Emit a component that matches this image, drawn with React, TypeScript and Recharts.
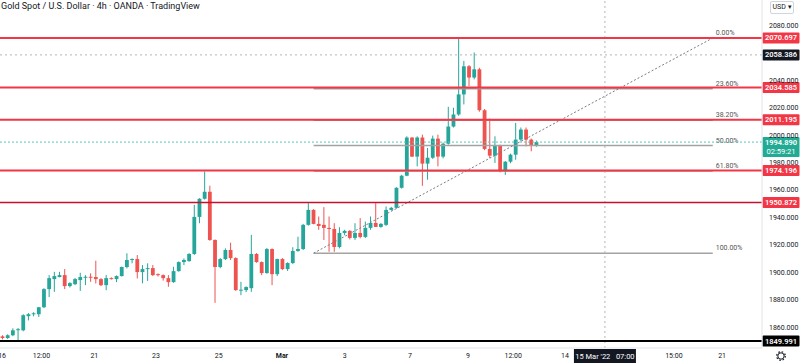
import React from 'react';
import { ComposedChart, Bar, XAxis, YAxis, ReferenceLine } from 'recharts';

// ---- candle data (4h, Gold spot) ----
const opens = [
  1853.4, 1852.2, 1854.2, 1858.3, 1857.8, 1868.1, 1869.5, 1869.5, 1874.6, 1887.8,
  1895.1, 1896.6, 1898.0, 1890.0, 1891.4, 1894.4, 1896.6, 1896.8, 1896.6, 1895.1,
  1890.7, 1895.8, 1895.1, 1897.3, 1903.9, 1909.0, 1909.7, 1900.2, 1902.4, 1903.1,
  1898.7, 1898.0, 1895.8, 1892.9, 1900.9, 1907.5, 1908.2, 1913.4, 1940.4, 1953.6,
  1958.7, 1923.6, 1903.9, 1909.7, 1916.3, 1910.4, 1887.1, 1887.1, 1888.5, 1913.4,
  1907.5, 1899.5, 1917.0, 1898.7, 1909.7, 1902.4, 1906.8, 1915.6, 1917.0, 1934.6,
  1945.5, 1935.3, 1934.6, 1932.4, 1931.6, 1918.5, 1928.7, 1930.2, 1925.1, 1928.7,
  1925.8, 1932.4, 1936.0, 1933.1, 1934.6, 1945.5, 1947.0, 1961.6, 1970.4, 1998.2,
  1984.3, 1998.2, 1979.2, 1983.5, 1997.4, 1984.3, 1993.7, 2006.2, 2015.0, 2029.6,
  2050.1, 2041.9, 2047.9, 2018.1, 1989.9, 1985.0, 1992.3, 1973.5, 1980.6, 1985.7,
  1996.7, 2004.0, 1996.7, 1992.3,
];
const highs = [
  1854.2, 1854.9, 1859.3, 1859.5, 1869.5, 1870.4, 1871.0, 1874.8, 1888.5, 1898.0,
  1900.4, 1900.4, 1902.4, 1892.8, 1896.0, 1899.7, 1898.0, 1899.3, 1908.5, 1895.8,
  1898.0, 1896.4, 1897.8, 1904.2, 1913.9, 1910.2, 1912.6, 1905.3, 1906.6, 1905.3,
  1899.3, 1898.5, 1898.0, 1904.1, 1908.0, 1910.2, 1914.0, 1949.2, 1954.0, 1973.5,
  1963.1, 1924.0, 1910.4, 1917.5, 1921.6, 1911.0, 1893.1, 1889.8, 1927.3, 1914.0,
  1908.0, 1917.7, 1917.5, 1910.0, 1910.4, 1907.3, 1918.3, 1926.0, 1935.3, 1950.4,
  1946.0, 1940.7, 1947.5, 1940.7, 1935.8, 1932.9, 1931.0, 1930.8, 1935.8, 1939.5,
  1937.0, 1940.7, 1950.4, 1936.0, 1948.0, 1947.7, 1962.0, 1971.0, 1999.1, 1998.5,
  1999.1, 2000.3, 1990.6, 1999.6, 2000.3, 1994.5, 2020.6, 2019.9, 2070.7, 2054.0,
  2051.0, 2060.1, 2049.0, 2019.0, 2012.0, 1999.1, 1993.0, 1981.0, 1986.5, 2008.9,
  2005.5, 2005.5, 1997.5, 1996.0,
];
const lows = [
  1851.2, 1851.5, 1853.5, 1850.5, 1857.1, 1865.0, 1868.0, 1867.5, 1874.0, 1882.0,
  1885.8, 1896.4, 1887.8, 1889.0, 1890.7, 1886.5, 1890.7, 1893.1, 1891.9, 1890.0,
  1887.0, 1894.8, 1892.9, 1897.0, 1902.9, 1906.6, 1895.6, 1892.0, 1893.8, 1897.3,
  1897.0, 1894.0, 1889.5, 1892.4, 1900.5, 1905.3, 1907.8, 1912.7, 1935.8, 1953.0,
  1923.0, 1877.8, 1903.0, 1909.0, 1909.0, 1886.5, 1883.4, 1885.6, 1885.8, 1907.0,
  1898.0, 1899.0, 1890.7, 1897.3, 1901.7, 1901.0, 1906.0, 1915.0, 1916.3, 1934.0,
  1935.0, 1931.0, 1923.6, 1915.0, 1915.0, 1917.5, 1927.0, 1924.0, 1923.6, 1924.8,
  1925.0, 1931.0, 1933.0, 1932.5, 1933.8, 1945.0, 1946.5, 1961.0, 1970.0, 1984.0,
  1977.2, 1963.0, 1967.5, 1982.6, 1977.2, 1983.0, 1993.0, 2005.5, 2014.0, 2022.3,
  2035.7, 2040.6, 2017.0, 1989.0, 1983.3, 1979.7, 1972.8, 1971.0, 1979.5, 1982.0,
  1995.5, 1991.8, 1988.2, 1991.5,
];
const closes = [
  1852.2, 1854.2, 1857.8, 1858.6, 1868.8, 1869.5, 1870.2, 1874.6, 1887.8, 1895.8,
  1897.3, 1898.0, 1890.0, 1892.2, 1895.1, 1896.6, 1896.8, 1896.6, 1895.1, 1890.7,
  1895.8, 1895.3, 1897.3, 1903.9, 1909.0, 1909.7, 1900.2, 1902.4, 1903.1, 1898.0,
  1898.0, 1895.8, 1892.9, 1900.9, 1907.5, 1909.0, 1913.4, 1940.4, 1953.6, 1958.7,
  1923.6, 1903.9, 1909.7, 1916.3, 1910.4, 1887.1, 1887.4, 1889.3, 1913.4, 1907.5,
  1899.5, 1917.0, 1898.7, 1909.7, 1902.4, 1906.8, 1915.6, 1917.0, 1934.6, 1945.5,
  1935.3, 1933.8, 1932.4, 1931.6, 1918.5, 1928.7, 1930.2, 1925.1, 1928.7, 1925.8,
  1932.4, 1936.0, 1933.1, 1935.3, 1945.5, 1947.0, 1961.6, 1970.4, 1998.2, 1984.3,
  1998.2, 1979.2, 1983.5, 1997.4, 1984.3, 1993.7, 2006.2, 2015.0, 2029.6, 2050.1,
  2041.9, 2047.9, 2018.1, 1989.9, 1985.0, 1992.3, 1973.5, 1980.6, 1985.7, 1996.7,
  2004.0, 1996.7, 1992.3, 1994.9,
];
const TOTAL_SLOTS = 147; // candles + empty future space

// ---- axis labels ----
const timeTickPos = [-0.1, 7.5, 17.7, 29.6, 41.7, 53.9, 66.0, 78.6, 89.8, 98.5, 108.5, 129.5, 138.8];
const timeTickLabels = ['16', '12:00', '21', '23', '25', 'Mar', '3', '7', '9', '12:00', '14', '15:00', '21'];
const boldTimeLabels = ['Mar'];
const priceTicks = [1860, 1880, 1900, 1920, 1940, 1960, 1980, 2000, 2020, 2040, 2080];
const priceDomain = [1844.92, 2098.37];

// ---- drawings ----
const redLevels = [2070.697, 2034.585, 2011.195, 1974.196];
const supportLevel = 1950.872;
const bottomLevel = 1849.991;
const crosshairPrice = 2058.386;
const crosshairSlot = 116.2;
const crosshairTime = "15 Mar '22   07:00";
const lastPrice = 1994.89;
const countdown = '02:59:21';
const fibStart = 60;
const fibEnd = 137;
const fibHigh = 2070.697;
const fibLow = 1914.0;
const fibRatios = [0, 0.236, 0.382, 0.5, 0.618, 1];
const fibLabels = ['0.00%', '23.60%', '38.20%', '50.00%', '61.80%', '100.00%'];

const UP = '#26a69a';
const DOWN = '#ef5350';
const LINE_RED = '#f23645';
const FONT = 'Roboto, "Liberation Sans", sans-serif';

const data = Array.from({ length: TOTAL_SLOTS }, (_, i) =>
  i < opens.length
    ? { i, o: opens[i], h: highs[i], l: lows[i], c: closes[i], range: [lows[i], highs[i]] }
    : { i, range: null }
);

const Candle = (props: any) => {
  const { x, y, width, height, payload } = props;
  if (!payload || payload.o == null || height == null || isNaN(y)) return <g />;
  const { o, h, l, c } = payload;
  const top = Math.min(y, y + height);
  const hh = Math.abs(height);
  const ppu = h > l ? hh / (h - l) : 0;
  const yOf = (v: number) => top + (h - v) * ppu;
  const cx = x + width / 2;
  const color = c >= o ? UP : DOWN;
  const bt = yOf(Math.max(o, c));
  const bb = yOf(Math.min(o, c));
  const bw = 3.8;
  return (
    <g>
      <line x1={cx} x2={cx} y1={top} y2={top + hh} stroke={color} strokeWidth={1} />
      <rect x={cx - bw / 2} y={bt} width={bw} height={Math.max(1, bb - bt)} fill={color} />
    </g>
  );
};

const PriceBox = (props: any) => {
  const { viewBox, text, fill, sub } = props;
  if (!viewBox) return null;
  const x = viewBox.x + viewBox.width + 0.5;
  const y = viewBox.y;
  const h = sub ? 20 : 11;
  const top = sub ? y - 5 : y - 5.5;
  return (
    <g>
      <rect x={x} y={top} width={37} height={h} fill={fill} rx={1} />
      <text x={x + 18.5} y={top + 8} textAnchor="middle" fill="#fff" fontSize={7.5} fontFamily={FONT} fontWeight={600}>
        {text}
      </text>
      {sub ? (
        <text x={x + 18.5} y={top + 17} textAnchor="middle" fill="#fff" fontSize={7.5} fontFamily={FONT}>
          {sub}
        </text>
      ) : null}
    </g>
  );
};

const FibLabel = (props: any) => {
  const { viewBox, text } = props;
  if (!viewBox) return null;
  return (
    <text x={viewBox.x + viewBox.width + 3} y={viewBox.y - 3} fill="#555" fontSize={7} fontFamily={FONT}>
      {text}
    </text>
  );
};

const TimeBox = (props: any) => {
  const { viewBox, text } = props;
  if (!viewBox) return null;
  const x = viewBox.x;
  const y = viewBox.y + viewBox.height + 1;
  return (
    <g>
      <rect x={x - 31} y={y} width={62} height={14} fill="#131722" />
      <text x={x} y={y + 10} textAnchor="middle" fill="#fff" fontSize={7.5} fontFamily={FONT} style={{ whiteSpace: 'pre' }}>
        {text}
      </text>
    </g>
  );
};

const TimeTick = (props: any) => {
  const { x, y, payload } = props;
  const idx = timeTickPos.indexOf(payload.value);
  const label = idx >= 0 ? timeTickLabels[idx] : '';
  return (
    <text
      x={x}
      y={y + 8}
      textAnchor="middle"
      fill="#131722"
      fontSize={7}
      fontFamily={FONT}
      fontWeight={boldTimeLabels.includes(label) ? 700 : 400}
    >
      {label}
    </text>
  );
};

const PriceTick = (props: any) => {
  const { x, y, payload } = props;
  return (
    <text x={x + 5} y={y + 2.5} fill="#131722" fontSize={7} fontFamily={FONT}>
      {Number(payload.value).toFixed(3)}
    </text>
  );
};

export default function App() {
  const fibValues = fibRatios.map((r) => fibHigh - r * (fibHigh - fibLow));
  return (
    <div style={{ position: 'absolute', left: 0, top: 0, width: 800, height: 363, background: '#fff', overflow: 'hidden' }}>
      <ComposedChart
        width={800}
        height={363}
        data={data}
        margin={{ top: 0, right: 0, bottom: 0, left: 0 }}
        barCategoryGap={0}
        barGap={0}
      >
        <XAxis
          xAxisId="n"
          dataKey="i"
          type="number"
          domain={[-0.5, TOTAL_SLOTS - 0.5]}
          ticks={timeTickPos}
          interval={0}
          allowDataOverflow
          height={15}
          tickLine={false}
          tickSize={0}
          tickMargin={2}
          axisLine={{ stroke: '#e0e3eb' }}
          tick={<TimeTick />}
        />
        <XAxis xAxisId="c" dataKey="i" type="category" hide height={0} />
        <YAxis
          orientation="right"
          width={38}
          domain={priceDomain}
          ticks={priceTicks}
          allowDataOverflow
          interval={0}
          tickLine={false}
          tickSize={0}
          axisLine={{ stroke: '#e0e3eb' }}
          tick={<PriceTick />}
        />

        {fibValues.map((v, k) => (
          <ReferenceLine
            key={'fib' + k}
            xAxisId="n"
            segment={[{ x: fibStart, y: v }, { x: fibEnd, y: v }]}
            stroke="#a3a3a3"
            strokeWidth={1.5}
            label={<FibLabel text={fibLabels[k]} />}
          />
        ))}
        <ReferenceLine
          xAxisId="n"
          segment={[{ x: fibStart, y: fibLow }, { x: fibEnd, y: fibHigh }]}
          stroke="#787b86"
          strokeDasharray="2 2"
          strokeWidth={1}
        />

        <ReferenceLine xAxisId="n" y={crosshairPrice} stroke="#b2b5be" strokeDasharray="2 3" strokeWidth={1}
          label={<PriceBox text={crosshairPrice.toFixed(3)} fill="#131722" />} />
        <ReferenceLine xAxisId="n" x={crosshairSlot} stroke="#b2b5be" strokeDasharray="2 3" strokeWidth={1}
          label={<TimeBox text={crosshairTime} />} />
        <ReferenceLine xAxisId="n" y={lastPrice} stroke="#5cc4b8" strokeDasharray="2 2" strokeWidth={1}
          label={<PriceBox text={lastPrice.toFixed(3)} sub={countdown} fill="#22ab94" />} />

        <Bar xAxisId="c" dataKey="range" shape={<Candle />} isAnimationActive={false} />

        {redLevels.map((v) => (
          <ReferenceLine key={'r' + v} xAxisId="n" y={v} stroke={LINE_RED} strokeWidth={2}
            label={<PriceBox text={v.toFixed(3)} fill={LINE_RED} />} />
        ))}
        <ReferenceLine xAxisId="n" y={supportLevel} stroke="#c8102e" strokeWidth={1.5}
          label={<PriceBox text={supportLevel.toFixed(3)} fill={LINE_RED} />} />
        <ReferenceLine xAxisId="n" y={bottomLevel} stroke="#000" strokeWidth={2}
          label={<PriceBox text={bottomLevel.toFixed(3)} fill="#000" />} />
      </ComposedChart>

      <div style={{ position: 'absolute', left: 1, top: 1, fontFamily: FONT, fontSize: 9, color: '#131722', whiteSpace: 'nowrap' }}>
        Gold Spot / U.S. Dollar · 4h · OANDA · TradingView
      </div>
      <div style={{ position: 'absolute', left: 770, top: 1, width: 22, height: 11, border: '1px solid #d1d4dc', borderRadius: 2, fontFamily: FONT, fontSize: 7, color: '#131722', textAlign: 'center', lineHeight: '11px' }}>
        USD ▾
      </div>
      <svg style={{ position: 'absolute', left: 776, top: 351 }} width={10} height={10}>
        <circle cx={5} cy={5} r={3.2} fill="none" stroke="#131722" strokeWidth={1} />
        <circle cx={5} cy={5} r={4.3} fill="none" stroke="#131722" strokeWidth={1.2} strokeDasharray="1.6 1.8" />
      </svg>
    </div>
  );
}
